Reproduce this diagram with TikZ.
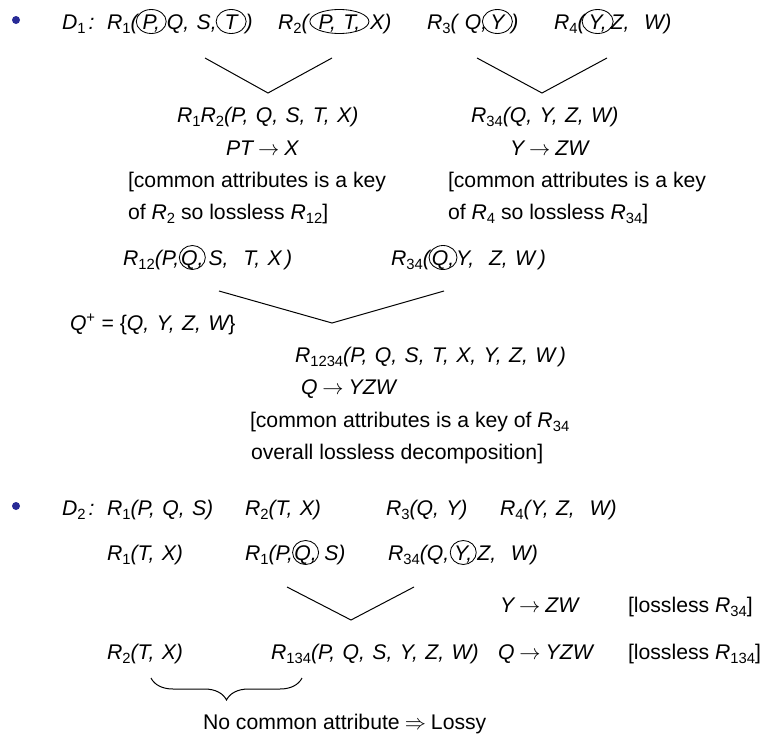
\RequirePackage{fix-cm}
\documentclass[tikz,border=0pt]{standalone}
\usepackage{fontspec}
\setmainfont{Liberation Sans}[ItalicFeatures={WordSpace=1.25}]
\usetikzlibrary{decorations.pathreplacing}
\definecolor{bul}{RGB}{40,42,150}
\newcommand\sbs[1]{\raisebox{-4.5pt}{\fontsize{14.8}{15}\selectfont\upshape #1}}
\newcommand\Rs[1]{\textit{R}\sbs{#1}}
\newcommand\ar{\kern5pt$\rightarrow$\kern5pt}
\begin{document}
\begin{tikzpicture}[x=1pt,y=-1pt,
  txt/.style={inner sep=0pt,outer sep=0pt,anchor=base west,font=\fontsize{21.2}{25}\selectfont},
  itx/.style={txt,font=\fontsize{21.2}{25}\selectfont\itshape},
  cq/.style={itx,inner xsep=#1},
  ring/.style={line width=0.85pt},
  vline/.style={line width=1pt},
  dot/.style={circle,fill=bul,inner sep=0pt,minimum size=8pt}]
\useasboundingbox (0,0) rectangle (764,736);

% bullets
\node[dot] (b1) at (16,20) {};
\node[dot] (b2) at (16,506) {};

% ---- D1 line
\node[itx] (d1) at (62,29) {D\sbs{1}\kern3pt:};
\node[itx] (r1a) at (107,29) {\Rs{1}(};
\node[cq=5pt] (r1p) at (r1a.base east) {P,};
\node[itx] (r1b) at (r1p.base east) {\kern2pt Q, S,};
\node[cq=8pt] (r1t) at (r1b.base east) {T};
\node[itx] (r1c) at (r1t.base east) {)};
\draw[ring] ([yshift=7.5pt]r1p.base) ellipse [x radius=15pt, y radius=12pt];
\draw[ring] ([yshift=7.5pt]r1t.base) ellipse [x radius=15pt, y radius=12pt];

\node[itx] (r2a) at (278,29) {\Rs{2}(\kern3pt};
\node[cq=7pt] (r2p) at (r2a.base east) {P, T,};
\node[itx] (r2b) at (r2p.base east) {\kern3pt X)};
\draw[ring] ([yshift=7.5pt]r2p.base) ellipse [x radius=29.5pt, y radius=12pt];

\node[itx] (r3a) at (427,29) {\Rs{3}(\ Q,};
\node[cq=3pt] (r3y) at (r3a.base east) {Y};
\node[itx] (r3b) at (r3y.base east) {\kern4pt)};
\draw[ring] ([yshift=7.5pt]r3y.base) ellipse [x radius=15pt, y radius=12pt];

\node[itx] (r4a) at (554,29) {\Rs{4}(};
\node[cq=4pt] (r4y) at (r4a.base east) {Y,};
\node[itx] (r4b) at (r4y.base east) {Z,\ \ W)};
\draw[ring] ([yshift=7.5pt]r4y.base) ellipse [x radius=15.5pt, y radius=12pt];

% V joins
\coordinate (v1l) at (205,58); \coordinate (v1a) at (268,93); \coordinate (v1r) at (332,58);
\coordinate (v2l) at (477,58); \coordinate (v2a) at (542,93); \coordinate (v2r) at (607,58);
\draw[vline] (v1l) -- (v1a) -- (v1r);
\draw[vline] (v2l) -- (v2a) -- (v2r);

% ---- results of first joins
\node[itx] (j12) at (177,122) {\Rs{1}\Rs{2}(P, Q, S, T, X)};
\node[itx] (j34) at (471,122) {\Rs{34}(Q, Y, Z, W)};
\node[itx] (fd1) at (226,155) {PT\ar X};
\node[itx] (fd2) at (510,155) {Y\ar ZW};
\node[txt] (c1) at (128,187) {[common attributes is a key};
\node[txt] (c2) at (448,187) {[common attributes is a key};
\node[txt] (o1) at (128,219) {of \Rs{2} so lossless \Rs{12}]};
\node[txt] (o2) at (448,219) {of \Rs{4} so lossless \Rs{34}]};

% ---- second level
\node[itx] (s12a) at (123,265) {\Rs{12}(P,};
\node[cq=2pt] (s12q) at (s12a.base east) {Q,};
\node[itx] (s12b) at (s12q.base east) {\kern3pt S,\ \ T, X\,)};
\draw[ring] ([yshift=7.5pt]s12q.base) ellipse [x radius=13pt, y radius=12pt];

\node[itx] (s34a) at (391,265) {\Rs{34}(};
\node[cq=2pt] (s34q) at (s34a.base east) {Q,};
\node[itx] (s34b) at (s34q.base east) {Y,\ \ Z, W\,)};
\draw[ring] ([yshift=7.5pt]s34q.base) ellipse [x radius=14pt, y radius=12pt];

\coordinate (v3l) at (219,291); \coordinate (v3a) at (332,323); \coordinate (v3r) at (444,291);
\draw[vline] (v3l) -- (v3a) -- (v3r);

\node[itx] (qp) at (70,330) {Q\textsuperscript{\upshape +}\upshape\ = \{\itshape Q, Y, Z, W\upshape\}};
\node[itx] (r1234) at (295,362) {\Rs{1234}(P, Q, S, T, X, Y, Z, W\,)};
\node[itx] (fd3) at (301,394) {Q\ar YZW};
\node[txt] (c3) at (250,427) {[common attributes is a key of \Rs{34}};
\node[txt] (c4) at (251,459) {overall lossless decomposition]};

% ---- D2
\node[itx] (d2) at (62,515) {D\sbs{2}\kern3pt:};
\node[itx] (e1) at (107,515) {\Rs{1}(P, Q, S)};
\node[itx] (e2) at (245,515) {\Rs{2}(T, X)};
\node[itx] (e3) at (386,515) {\Rs{3}(Q, Y)};
\node[itx] (e4) at (500,515) {\Rs{4}(Y, Z,\ \ W)};

\node[itx] (f1) at (107,560) {\Rs{1}(T, X)};
\node[itx] (f2a) at (245,560) {\Rs{1}(P,};
\node[cq=1.5pt] (f2q) at (f2a.base east) {Q,};
\node[itx] (f2b) at (f2q.base east) {\kern6pt S)};
\draw[ring] ([yshift=7.5pt]f2q.base) ellipse [x radius=13pt, y radius=12pt];
\node[itx] (f3a) at (388,560) {\Rs{34}(Q,\kern3pt};
\node[cq=2pt] (f3y) at (f3a.base east) {Y,};
\node[itx] (f3b) at (f3y.base east) {\kern3pt Z,\ \ W)};
\draw[ring] ([yshift=7.5pt]f3y.base) ellipse [x radius=13pt, y radius=12pt];

\coordinate (v4l) at (287,587); \coordinate (v4a) at (351,620); \coordinate (v4r) at (414,587);
\draw[vline] (v4l) -- (v4a) -- (v4r);

\node[itx] (fd4) at (500,612) {Y\ar ZW};
\node[txt] (l1) at (628,612) {[lossless \Rs{34}]};
\node[itx] (g1) at (107,659) {\Rs{2}(T, X)};
\node[itx] (g2) at (271,659) {\Rs{134}(P, Q, S, Y, Z, W)};
\node[itx] (fd5) at (498,659) {Q\ar YZW};
\node[txt] (l2) at (628,659) {[lossless \Rs{134}]};

\coordinate (bl) at (151,678); \coordinate (br) at (302,678);
\draw[line width=1pt,decorate,decoration={brace,mirror,amplitude=22pt}] (bl) -- (br);
\node[txt] (nc) at (203,729) {No common attribute\kern5pt$\Rightarrow$\kern5pt Lossy};
\end{tikzpicture}
\end{document}
